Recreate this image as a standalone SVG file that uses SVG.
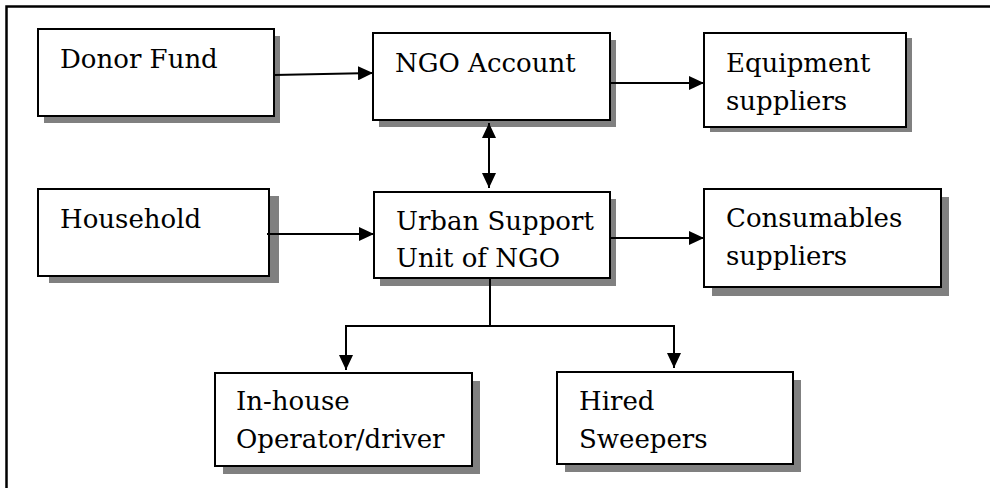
<svg xmlns="http://www.w3.org/2000/svg" width="990" height="488" viewBox="0 0 990 488">
<style>
.box{fill:#fff;stroke:#000;stroke-width:2}
.sh{fill:#808080}
.t{font-family:"DejaVu Serif","Liberation Serif",serif;font-size:26px;fill:#000}
.c{stroke:#000;stroke-width:2;fill:none}
</style>
<defs>
<marker id="ah" viewBox="0 0 15 14" refX="15" refY="7" markerWidth="15" markerHeight="14" markerUnits="userSpaceOnUse" orient="auto-start-reverse">
<path d="M0,0 L15,7 L0,14 Z" fill="#000"/>
</marker>
</defs>
<rect x="6.5" y="6.5" width="1000" height="500" fill="#fff" stroke="#000" stroke-width="2.5"/>
<g id="donor">
<rect class="sh" x="44" y="36" width="236" height="87"/>
<rect class="box" x="38" y="29" width="236" height="87"/>
<text class="t" x="60" y="68">Donor Fund</text>
</g>
<g id="ngo">
<rect class="sh" x="379" y="40" width="237" height="87"/>
<rect class="box" x="373" y="33" width="237" height="87"/>
<text class="t" x="395" y="72">NGO Account</text>
</g>
<g id="equip">
<rect class="sh" x="710" y="38" width="202" height="94"/>
<rect class="box" x="704" y="33" width="202" height="94"/>
<text class="t" x="726" y="72">Equipment</text>
<text class="t" x="726" y="110">suppliers</text>
</g>
<g id="household">
<rect class="sh" x="49" y="196" width="230" height="87"/>
<rect class="box" x="38" y="189" width="231" height="87"/>
<text class="t" x="60" y="228">Household</text>
</g>
<g id="urban">
<rect class="sh" x="380" y="199" width="236" height="87"/>
<rect class="box" x="374" y="192" width="236" height="86"/>
<text class="t" x="396" y="230">Urban Support</text>
<text class="t" x="396" y="267">Unit of NGO</text>
</g>
<g id="consumables">
<rect class="sh" x="712" y="197" width="237" height="99"/>
<rect class="box" x="704" y="189" width="237" height="98"/>
<text class="t" x="726" y="227">Consumables</text>
<text class="t" x="726" y="265">suppliers</text>
</g>
<g id="inhouse">
<rect class="sh" x="223" y="381" width="257" height="93"/>
<rect class="box" x="215" y="373" width="257" height="93"/>
<text class="t" x="236" y="410">In-house</text>
<text class="t" x="236" y="448">Operator/driver</text>
</g>
<g id="hired">
<rect class="sh" x="565" y="380" width="236" height="92"/>
<rect class="box" x="557" y="372" width="236" height="92"/>
<text class="t" x="579" y="410">Hired</text>
<text class="t" x="579" y="448">Sweepers</text>
</g>
<g id="connectors">
<path class="c" d="M274,75 L373,73" marker-end="url(#ah)"/>
<path class="c" d="M610,83 L704,83" marker-end="url(#ah)"/>
<path class="c" d="M489,123 L489,188" marker-start="url(#ah)" marker-end="url(#ah)"/>
<path class="c" d="M267,234 L374,234" marker-end="url(#ah)"/>
<path class="c" d="M610,238 L704,238" marker-end="url(#ah)"/>
<path class="c" d="M490,278 L490,326"/>
<path class="c" d="M346,370 L346,326 L674,326 L674,368" marker-start="url(#ah)" marker-end="url(#ah)"/>
</g>
</svg>
